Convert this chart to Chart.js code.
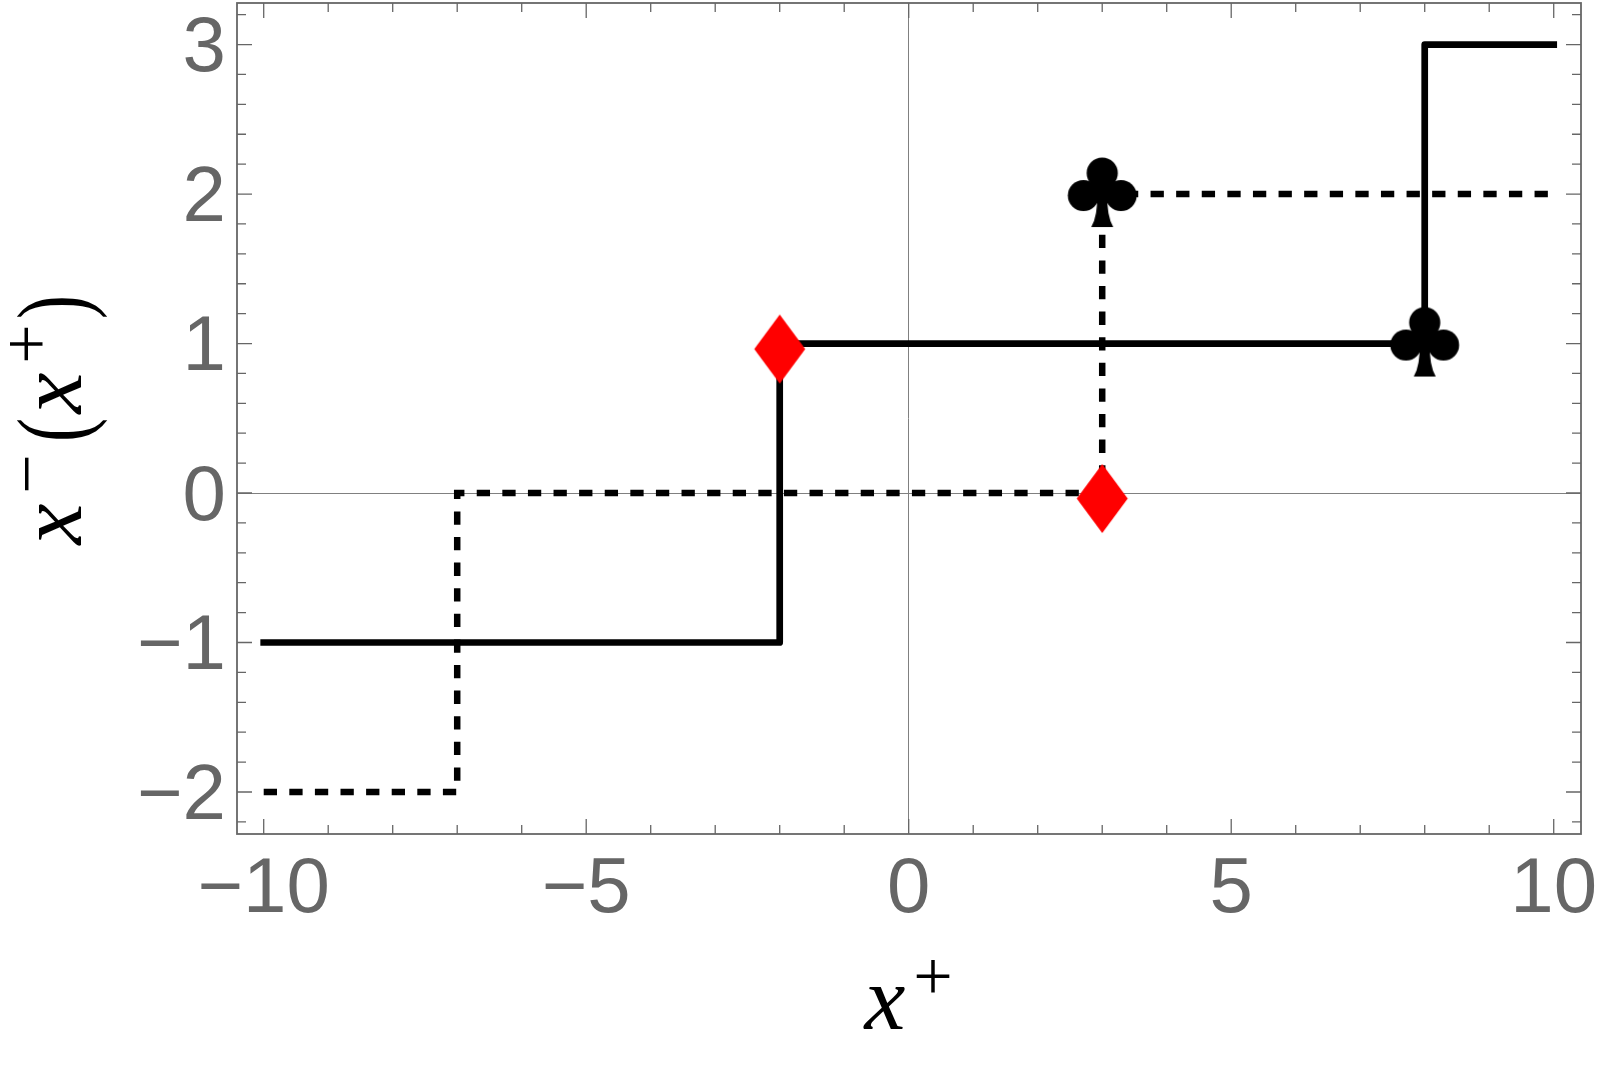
<!DOCTYPE html>
<html>
<head>
<meta charset="utf-8">
<title>Step functions x^-(x^+)</title>
<style>html,body{margin:0;padding:0;background:#fff}canvas{display:block}</style>
<script src="https://cdn.jsdelivr.net/npm/chart.js@4/dist/chart.umd.min.js"></script>
</head>
<body>
<canvas id="c" width="1600" height="1067"></canvas>
<script>
// ---- data ----
const solidX = [-10, -2, -2, 8, 8, 10];
const solidY = [-1, -1, 1, 1, 3, 3];
const dashedX = [-10, -7, -7, 3, 3, 10];
const dashedY = [-2, -2, 0, 0, 2, 2];
const diamondX = [-2, 3];
const diamondY = [1, 0];
const clubX = [3, 8];
const clubY = [2, 1];
const xMajorTicks = [-10, -5, 0, 5, 10];
const xMinorTicks = [-9, -8, -7, -6, -4, -3, -2, -1, 1, 2, 3, 4, 6, 7, 8, 9];
const yMajorTicks = [-2, -1, 0, 1, 2, 3];
const yMinorTicks = [-2.2, -1.8, -1.6, -1.4, -1.2, -0.8, -0.6, -0.4, -0.2, 0.2, 0.4, 0.6, 0.8,
                     1.2, 1.4, 1.6, 1.8, 2.2, 2.4, 2.6, 2.8, 3.2];

// ---- marker glyphs (used as Chart.js pointStyle images) ----
function diamondGlyph() {
  const c = document.createElement('canvas'); c.width = 80; c.height = 100;
  const g = c.getContext('2d');
  g.translate(40, 50);
  g.fillStyle = '#ff0000';
  g.beginPath();
  g.moveTo(0, 5.5 - 34.5); g.lineTo(25.5, 5.5); g.lineTo(0, 5.5 + 34.5); g.lineTo(-25.5, 5.5);
  g.closePath(); g.fill();
  return c;
}
function clubGlyph() {
  const c = document.createElement('canvas'); c.width = 90; c.height = 100;
  const g = c.getContext('2d');
  g.translate(45, 50);
  g.fillStyle = '#000';
  for (const [cx, cy] of [[0, -21], [-18.8, 1.5], [18.8, 1.5]]) {
    g.beginPath(); g.arc(cx, cy, 15.6, 0, Math.PI * 2); g.fill();
  }
  g.beginPath(); g.arc(0, -1, 11, 0, Math.PI * 2); g.fill();
  g.beginPath();
  g.moveTo(-5, 0);
  g.quadraticCurveTo(-4.5, 22, -11, 33);
  g.lineTo(11, 33);
  g.quadraticCurveTo(4.5, 22, 5, 0);
  g.closePath(); g.fill();
  return c;
}
const pts = (xs, ys) => xs.map((x, i) => ({ x, y: ys[i] }));

// ---- frame, ticks, zero axes ----
const GRAY = '#666666';
const frame = {
  id: 'frame',
  beforeDatasetsDraw(chart) {
    const { ctx, chartArea: a, scales: { x, y } } = chart;
    ctx.save();
    ctx.strokeStyle = '#808080'; ctx.lineWidth = 1;
    ctx.beginPath();
    const x0 = Math.floor(x.getPixelForValue(0)) + 0.5, y0 = Math.floor(y.getPixelForValue(0)) + 0.5;
    ctx.moveTo(x0, a.top); ctx.lineTo(x0, a.bottom);
    ctx.moveTo(a.left, y0); ctx.lineTo(a.right, y0);
    ctx.stroke();
    ctx.strokeStyle = GRAY; ctx.lineWidth = 1.3;
    const xt = (v, l) => { const p = x.getPixelForValue(v);
      ctx.moveTo(p, a.bottom); ctx.lineTo(p, a.bottom - l);
      ctx.moveTo(p, a.top); ctx.lineTo(p, a.top + l); };
    const yt = (v, l) => { const p = y.getPixelForValue(v);
      ctx.moveTo(a.left, p); ctx.lineTo(a.left + l, p);
      ctx.moveTo(a.right, p); ctx.lineTo(a.right - l, p); };
    ctx.beginPath();
    xMajorTicks.forEach(v => xt(v, 15)); xMinorTicks.forEach(v => xt(v, 9));
    yMajorTicks.forEach(v => yt(v, 15)); yMinorTicks.forEach(v => yt(v, 9));
    ctx.stroke();
    ctx.lineWidth = 1.8;
    ctx.strokeRect(a.left, a.top, a.right - a.left, a.bottom - a.top);
    ctx.restore();
  }
};

// ---- math-style axis titles ----
const ITALIC = 'italic 92px "Liberation Serif"';
const PLUS = '70px "Liberation Serif"';
const PAREN = '100px "Liberation Serif"';
const titles = {
  id: 'titles',
  afterDraw(chart) {
    const { ctx } = chart;
    const put = (t, font, px, py) => { ctx.font = font; ctx.fillText(t, px, py); };
    const paren = (t, u, v) => {
      ctx.save(); ctx.translate(u, v); ctx.scale(0.72, 1);
      put(t, PAREN, 0, 0); ctx.restore();
    };
    ctx.save();
    ctx.fillStyle = '#000'; ctx.textAlign = 'center'; ctx.textBaseline = 'alphabetic';
    put('x', ITALIC, 885, 1029);
    put('+', PLUS, 933, 1000);
    ctx.rotate(-Math.PI / 2);
    // u = -screenY, v = screenX
    put('x', ITALIC, -524, 81);
    put('−', PLUS, -474, 50);
    paren('(', -430, 86);
    put('x', ITALIC, -393, 81);
    put('+', PLUS, -344, 50);
    paren(')', -307, 86);
    ctx.restore();
  }
};

const fmt = v => (v < 0 ? '−' + Math.abs(v) : String(v));
const tickFont = { family: '"Liberation Sans"', size: 78 };

new Chart(document.getElementById('c'), {
  type: 'scatter',
  data: { datasets: [
    { label: 'diamond', data: pts(diamondX, diamondY), showLine: false, pointStyle: diamondGlyph(), pointRadius: 30, order: 1, clip: false },
    { label: 'club', data: pts(clubX, clubY), showLine: false, pointStyle: clubGlyph(), pointRadius: 30, order: 1, clip: false },
    { label: 'solid', data: pts(solidX, solidY), showLine: true, borderColor: '#000', borderWidth: 6.7, pointRadius: 0,
      borderCapStyle: 'square', borderJoinStyle: 'round', tension: 0, order: 2, clip: false },
    { label: 'dashed', data: pts(dashedX, dashedY), showLine: true, borderColor: '#000', borderWidth: 6.5, pointRadius: 0,
      borderDash: [13.3, 12.3], borderJoinStyle: 'miter', tension: 0, order: 3, clip: false }
  ]},
  options: {
    responsive: false, animation: false, devicePixelRatio: 1,
    layout: { autoPadding: false, padding: { top: 3, right: 19, left: 0, bottom: 0 } },
    plugins: { legend: { display: false }, tooltip: { enabled: false } },
    scales: {
      x: {
        type: 'linear', min: -10.414, max: 10.423,
        grid: { display: false, drawTicks: false }, border: { display: false },
        afterBuildTicks: s => { s.ticks = xMajorTicks.map(value => ({ value })); },
        afterFit: s => { s.height = 233; s.paddingLeft = 0; s.paddingRight = 0; },
        ticks: { font: tickFont, color: GRAY, padding: 10, maxRotation: 0, minRotation: 0, autoSkip: false, callback: fmt }
      },
      y: {
        type: 'linear', min: -2.281, max: 3.278,
        grid: { display: false, drawTicks: false }, border: { display: false },
        afterBuildTicks: s => { s.ticks = yMajorTicks.map(value => ({ value })); },
        afterFit: s => { s.width = 237; s.paddingTop = 0; s.paddingBottom = 0; },
        ticks: { font: tickFont, color: GRAY, padding: 11, labelOffset: 5, autoSkip: false, callback: fmt }
      }
    }
  },
  plugins: [frame, titles]
});
</script>
</body>
</html>
